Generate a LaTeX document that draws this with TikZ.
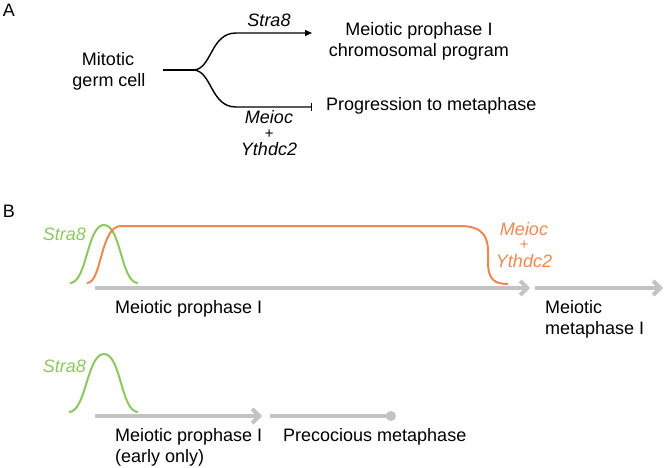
\documentclass[tikz,border=0pt]{standalone}
\usepackage{fontspec}
\setmainfont{Liberation Sans}
\usetikzlibrary{arrows.meta}
\definecolor{lgreen}{RGB}{140,200,95}
\definecolor{lorange}{RGB}{240,135,80}
\definecolor{lgray}{RGB}{195,195,195}
\begin{document}
\begin{tikzpicture}[x=1pt,y=-1pt,
  txt/.style={font=\fontsize{18}{21.6}\selectfont, inner sep=0pt, anchor=base},
  itxt/.style={txt, font=\fontsize{18}{21.6}\selectfont\itshape},
  ptxt/.style={txt, font=\fontsize{15}{16}\selectfont\itshape},
  ltxt/.style={txt, anchor=base west},
  fork/.style={black, line width=1.4pt},
  gline/.style={lgray, line width=4pt},
  garrow/.style={gline, -{Straight Barb[length=7pt,width=14pt]}},
  bell/.style={lgreen, line width=2pt},
  oline/.style={lorange, line width=2pt}]
\useasboundingbox (0,0) rectangle (664,468);

% ---------- Panel A ----------
\node[txt] (A) at (9,17) {A};
\node[txt] (mit1) at (108,66) {Mitotic};
\node[txt] (mit2) at (109,87) {germ cell};
\coordinate (f0) at (163,70);
\coordinate (fj) at (193,70);
\coordinate (up) at (236,33);
\coordinate (dn) at (236,107);
\coordinate (upend) at (312,33);
\coordinate (dnend) at (312,107);
\draw[fork] (f0) -- (fj);
\draw[fork, -{Triangle[length=7pt,width=6pt]}] (fj) .. controls (212,70) and (210,33) .. (up) -- (upend);
\draw[fork, -{Bar[width=8pt]}] (fj) .. controls (212,70) and (210,107) .. (dn) -- (dnend);
\node[itxt] (s8a) at (269,27) {Stra8};
\node[itxt] (meA) at (269,124) {Meioc};
\node[ptxt] (plA) at (269,138.5) {+};
\node[itxt] (ytA) at (269,156) {Ythdc2};
\node[txt] (mp1) at (419,36) {Meiotic prophase I};
\node[txt] (mp2) at (419,57) {chromosomal program};
\node[ltxt] (prog) at (326,111) {Progression to metaphase};

% ---------- Panel B ----------
\node[txt] (B) at (9,217) {B};
% row 1
\draw[bell] (70,283) .. controls (87,283) and (87,225) .. (104,225)
               .. controls (121,225) and (121,283) .. (138,283);
\draw[oline] (87,283) .. controls (102,283) and (100,226) .. (121,226) -- (460,226)
   .. controls (484,226) and (488,238) .. (488,252) -- (488,262)
   .. controls (488,281) and (496,284) .. (508,284);
\node[itxt, anchor=base east, text=lgreen] (s8b) at (86,240) {Stra8};
\node[itxt, text=lorange] (meB) at (524,235) {Meioc};
\node[ptxt, text=lorange] (plB) at (524,249.5) {+};
\node[itxt, text=lorange] (ytB) at (524,267) {Ythdc2};
\coordinate (r1a) at (95,288);
\coordinate (r1b) at (530,288);
\coordinate (r1c) at (535,288);
\coordinate (r1d) at (663,288);
\draw[garrow] (r1a) -- (r1b);
\draw[garrow] (r1c) -- (r1d);
\node[ltxt] (mpB) at (115,313) {Meiotic prophase I};
\node[ltxt] (mm1) at (545,313) {Meiotic};
\node[ltxt] (mm2) at (545,334) {metaphase I};
% row 2
\draw[bell] (69,412) .. controls (86,412) and (87,354) .. (104,354)
               .. controls (121,354) and (121,412) .. (138,412);
\node[itxt, anchor=base east, text=lgreen] (s8c) at (86,372) {Stra8};
\coordinate (r2a) at (95,416);
\coordinate (r2b) at (262,416);
\coordinate (r2c) at (270,416);
\node[circle, fill=lgray, minimum size=10pt, inner sep=0pt] (endc) at (391,416) {};
\draw[garrow] (r2a) -- (r2b);
\draw[gline] (r2c) -- (endc.center);
\node[ltxt] (mpC) at (115,441) {Meiotic prophase I};
\node[ltxt] (eo) at (115,462) {(early only)};
\node[ltxt] (prec) at (283,441) {Precocious metaphase};
\end{tikzpicture}
\end{document}
